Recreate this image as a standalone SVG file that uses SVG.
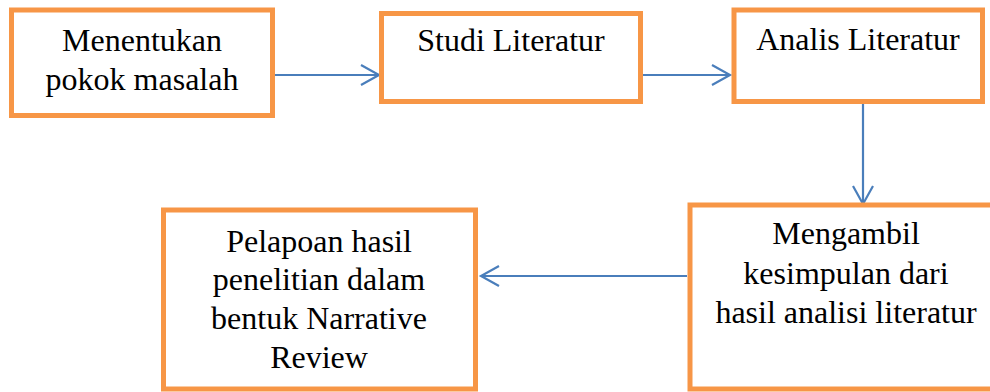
<svg xmlns="http://www.w3.org/2000/svg" width="990" height="392" viewBox="0 0 990 392">
<style>
.box{fill:#FFFFFF;stroke:#F79646;stroke-width:5}
.lbl{font-family:"Liberation Serif","Times New Roman",serif;font-size:32px;fill:#000000;text-anchor:middle}
.con{stroke:#4A7EBB;stroke-width:2.2;fill:none}
</style>
<defs>
<marker id="arr" markerUnits="userSpaceOnUse" markerWidth="24" markerHeight="24" viewBox="-20 -12 22 24" refX="0" refY="0" orient="auto">
<path d="M-18,-10 L0,0 L-18,10" fill="none" stroke="#4A7EBB" stroke-width="2.2"/>
</marker>
</defs>
<rect width="990" height="392" fill="#FFFFFF"/>
<g id="connectors">
<line class="con" x1="275" y1="75" x2="379" y2="75" marker-end="url(#arr)"/>
<line class="con" x1="643" y1="75" x2="730" y2="75" marker-end="url(#arr)"/>
<line class="con" x1="863" y1="104" x2="863" y2="204" marker-end="url(#arr)"/>
<line class="con" x1="687" y1="276" x2="481" y2="276" marker-end="url(#arr)"/>
</g>
<g id="node-menentukan">
<rect class="box" x="11.5" y="10" width="261" height="105.5"/>
<text class="lbl" x="142" y="51">Menentukan</text>
<text class="lbl" x="142" y="90">pokok masalah</text>
</g>
<g id="node-studi">
<rect class="box" x="381.5" y="13.5" width="259" height="88"/>
<text class="lbl" x="511" y="51">Studi Literatur</text>
</g>
<g id="node-analis">
<rect class="box" x="734" y="10" width="248.5" height="91.5"/>
<text class="lbl" x="858" y="50">Analis Literatur</text>
</g>
<g id="node-mengambil">
<rect class="box" x="690" y="205" width="305" height="184"/>
<text class="lbl" x="846" y="244">Mengambil</text>
<text class="lbl" x="846" y="284">kesimpulan dari</text>
<text class="lbl" x="846" y="323">hasil analisi literatur</text>
</g>
<g id="node-pelapoan">
<rect class="box" x="163.5" y="210" width="312" height="179"/>
<text class="lbl" x="319" y="252">Pelapoan hasil</text>
<text class="lbl" x="319" y="290">penelitian dalam</text>
<text class="lbl" x="319" y="329">bentuk Narrative</text>
<text class="lbl" x="319" y="368">Review</text>
</g>
</svg>
